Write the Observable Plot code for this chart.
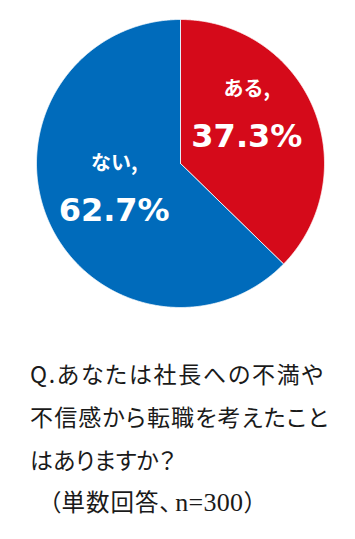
<!DOCTYPE html>
<html><head><meta charset="utf-8">
<script src="https://cdn.jsdelivr.net/npm/d3@7"></script>
<script src="https://cdn.jsdelivr.net/npm/@observablehq/plot@0.6"></script>
<style>
body{margin:0;background:#fff;width:355px;overflow:hidden}
#q{margin:32px 0 0 30px;font-family:"Noto Sans CJK JP",sans-serif;font-size:23px;line-height:43px;color:#1a1a1a;white-space:nowrap}
#q .l{font-feature-settings:"palt"}
#q .j{display:inline-block}
#q .last{line-height:40px;font-size:23.5px}
#q .op{margin-left:8px}
#q .k{letter-spacing:1px}
#q .c{font-feature-settings:"palt";margin-right:4px}
#q .n{font-family:"Liberation Serif",serif;font-size:26px;letter-spacing:0.3px}
</style></head>
<body><div id="chart"></div><div id="q"></div>
<script>
const categories = ["ある", "ない"];
const values = [37.3, 62.7];
const colors = ["#D50A1A", "#006BBB"];
const questionLines = ["Q.あなたは社長への不満や", "不信感から転職を考えたこと", "はありますか？"];
const noteText = ["（", "単数回答", "、", "n=300", "）"];

// layout-only tweaks for label placement (unit radius)
const labelShift = {"ある": 0.155, "ない": 0.03};

const arcs = d3.pie().sort(null).value(d => d.value)(categories.map((c, i) => ({name: c, value: values[i]})));
const poly = [];
arcs.forEach(a => {
  const n = Math.max(2, Math.ceil((a.endAngle - a.startAngle) / 0.005));
  poly.push({name: a.data.name, x: 0, y: 0});
  for (let k = 0; k <= n; k++) {
    const t = a.startAngle + (a.endAngle - a.startAngle) * k / n;
    poly.push({name: a.data.name, x: Math.sin(t), y: Math.cos(t)});
  }
  poly.push({name: a.data.name, x: 0, y: 0});
});
const labels = arcs.map(a => {
  const m = (a.startAngle + a.endAngle) / 2;
  return {name: a.data.name, value: a.data.value, x: 0.5 * Math.sin(m), y: 0.5 * Math.cos(m) + labelShift[a.data.name]};
});

const plot = Plot.plot({
  width: 355, height: 320,
  marginLeft: 36, marginRight: 31, marginTop: 19, marginBottom: 13,
  x: {domain: [-1, 1], axis: null},
  y: {domain: [-1, 1], axis: null},
  color: {domain: categories, range: colors},
  marks: [
    Plot.line(poly, {x: "x", y: "y", z: "name", fill: "name", stroke: "#fff", strokeWidth: 0.8, curve: "linear"}),
    Plot.text(labels, {x: "x", y: "y", text: d => d.name + ",", dy: -24, fill: "#fff", fontSize: 20, fontWeight: "bold", fontFamily: "'Noto Sans CJK JP', sans-serif"}),
    Plot.text(labels, {x: "x", y: "y", text: d => d.value.toFixed(1) + "%", dy: 24, fill: "#fff", fontSize: 32, fontWeight: "bold", fontFamily: "'DejaVu Sans', sans-serif"})
  ]
});
document.getElementById("chart").appendChild(plot);

const q = document.getElementById("q");
const targets = [293, 298, null];
questionLines.forEach((l, i) => {
  const d = document.createElement("div");
  d.className = "l";
  const s = document.createElement("span");
  s.className = "j";
  s.textContent = l;
  d.appendChild(s);
  q.appendChild(d);
  if (targets[i]) {
    const w = s.getBoundingClientRect().width;
    const n = Array.from(l).length;
    s.style.letterSpacing = ((targets[i] - w) / (n - 1)) + "px";
  }
});
const note = document.createElement("div");
note.className = "last";
note.innerHTML = '<span class="op">' + noteText[0] + '</span><span class="k">' + noteText[1] + '</span><span class="c">' + noteText[2] + '</span><span class="n">' + noteText[3] + '</span><span>' + noteText[4] + '</span>';
q.appendChild(note);
</script></body></html>
